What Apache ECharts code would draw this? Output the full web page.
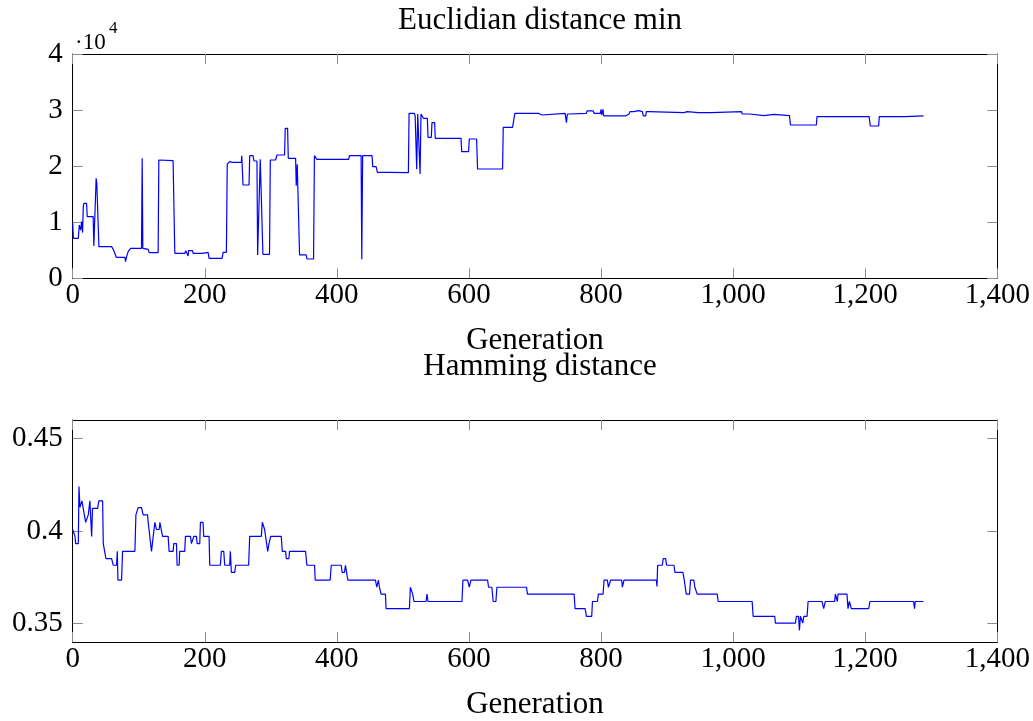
<!DOCTYPE html>
<html>
<head>
<meta charset="utf-8">
<script src="https://cdn.jsdelivr.net/npm/echarts@6/dist/echarts.min.js"></script>
<style>
html,body{margin:0;padding:0;background:#fff;}
#chart{width:1033px;height:721px;}
</style>
</head>
<body>
<div id="chart"></div>
<script>
// ---- Data ----
const titleTop = "Euclidian distance min";
const titleBottom = "Hamming distance";
const xAxisName = "Generation";
const xTicks = [0, 200, 400, 600, 800, 1000, 1200, 1400];
const yTicksTop = [0, 10000, 20000, 30000, 40000];
const yTicksBottom = [0.35, 0.40, 0.45];

const euclidGen = [
  0, 1, 8.5, 10, 12, 13.5, 15, 16, 17, 21, 22, 31, 32, 34.7, 35.5, 36.5, 39.7, 58.9, 61.4, 64,
  66, 79, 80, 81.6, 84, 87.6, 104.2, 105.2, 106.2, 114.3, 115.8, 129.4, 130.4, 152, 154.6, 169.7,
  171.2, 174, 174.8, 175.5, 181.3, 182.3, 196.4, 197, 205, 206.5, 226.2, 227.7, 232.7, 234,
  237.7, 240.2, 241.8, 255.4, 256, 256.9, 257.9, 267, 268, 273, 274.5, 279, 280, 283, 284,
  286.6, 288, 298, 299.2, 307.3, 309.3, 320.8, 321.8, 325.4, 326.4, 337.5, 338.5, 340, 342.5,
  343.5, 353.6, 354.6, 364.7, 366, 368.7, 369.7, 418, 419, 436.7, 437.7, 439, 453.3, 454.3,
  459.4, 461.4, 479.5, 508.3, 509.3, 517.3, 518.5, 520.9, 522.4, 524, 526, 527.4, 530, 531,
  537, 538, 543, 544, 548, 549, 588, 589, 599.5, 600.5, 611.6, 613, 650.9, 651.9, 666, 667,
  668.5, 669.5, 705.3, 706, 710.3, 711.3, 745.6, 747.6, 749, 752.6, 754, 777.8, 778.8, 788,
  789.4, 799, 800, 801, 803, 804, 837.3, 838.3, 842.3, 843.8, 849.9, 851, 856.4, 857.4, 862.5,
  864, 867.5, 868.5, 872.6, 873.6, 925.4, 926.5, 930.5, 931.5, 943, 945.7, 947, 967, 968.4,
  1012.7, 1013.7, 1025, 1026.3, 1046.5, 1047.5, 1061.6, 1062.6, 1085.3, 1086.8, 1126, 1127,
  1175, 1176, 1177, 1206, 1207.7, 1220.3, 1221.3, 1260.6, 1261.6, 1288.3
];
const euclidVal = [
  9900, 7130, 7130, 9500, 8600, 10100, 8150, 12780, 13370, 13370, 11000, 11000, 5760, 5760, 17830, 16940, 5640, 5640, 5170, 5170,
  3740, 3740, 2970, 3860, 4750, 5350, 5350, 21400, 5350, 5170, 4570, 4570, 21100, 20980, 4460, 4460,
  4930, 4930, 3980, 4930, 4930, 4460, 4460, 4630, 4630, 3560, 3560, 4630, 4630, 20390,
  20800, 20800, 20680, 20680, 21870, 21870, 16640, 16640, 21870, 21870, 20920, 20920, 4160, 4160, 21220,
  21220, 4280, 4280, 21100, 21100, 21990, 21990, 26750, 26750, 21400, 21400, 16520, 20330, 20330,
  4160, 4160, 3440, 3440, 21870, 21870, 21220, 21220, 21870, 21870, 3390, 21870, 21870, 19910,
  19910, 18900, 18900, 18840, 29420, 29420, 29000, 19440, 29300, 29300, 18600, 29300, 29300, 28530,
  28530, 25140, 25140, 27760, 27760, 24960, 24960, 22590, 22590, 24840, 24840, 19490, 19490, 26920, 26920, 27160,
  27160, 29420, 29420, 29120, 29120, 29420, 29420, 27760, 29300, 29300, 29420, 29420, 29840, 29840,
  29420, 29420, 30130, 29120, 30130, 28950, 28950, 29300, 29300, 29720, 29720, 29890, 29890, 29720, 29720,
  28950, 28950, 29720, 29720, 29540, 29540, 29720, 29720, 29600, 29600, 29720, 29540, 29540, 29720,
  29720, 29300, 29300, 29000, 29000, 29240, 29240, 29000, 29000, 27340, 27340, 28830,
  28830, 28710, 28830, 28830, 27160, 27160, 28830, 28830, 28950, 28950
];

const hammingGen = [
  0, 2, 3.5, 4.5, 8.5, 9.5, 10, 11, 13, 14, 17, 19.6, 22.6, 23.6, 25, 26, 27.5, 28.7, 30, 37.7,
  39.7, 45.3, 46.3, 48.8, 50.3, 58.9, 61.4, 66.4, 67.5, 68.5, 74, 75.5, 94.2, 95.7, 98.2, 99,
  104.2, 106.7, 113.3, 114.3, 116.8, 119.3, 121.9, 124.4, 125.9, 126.9, 131, 132, 134.5, 136,
  144.5, 146, 152, 153, 157.1, 158.1, 161.2, 162, 169.7, 170.7, 178.3, 179.8, 182.3, 183.3,
  187.4, 188.4, 192.4, 193.4, 197.4, 198.4, 206.5, 207.5, 223.6, 225.1, 228.7, 230.2, 237.7,
  238.7, 240.3, 245.3, 246.8, 266.4, 268, 285.6, 287.1, 289.1, 290.6, 293.2, 295.3, 297.2,
  299.7, 315.8, 317.3, 322.4, 323.4, 327.4, 328.4, 352.6, 354.6, 366.2, 367.2, 389.9, 391.4,
  406.5, 408, 411.5, 413, 415, 416.6, 458.4, 460.4, 462.9, 464.4, 467, 473.5, 474.5, 509.8,
  511.3, 513.3, 514.8, 516.8, 535, 536.5, 538, 589.4, 590.9, 598, 600.5, 603, 628.2, 629.7,
  634.7, 636.7, 640.8, 642.3, 687.1, 688.6, 759.2, 760.7, 775.9, 777.9, 785.9, 787, 794.5,
  796, 803, 804.6, 809.6, 811.1, 813.1, 814.6, 831.3, 832.3, 833.3, 834.8, 883.7, 884.7,
  885.7, 892.7, 894.2, 897.8, 899.3, 910.4, 911.9, 924, 926, 928, 929, 934, 935.5, 940.6,
  942, 944.1, 945.6, 975.9, 977.4, 1028.8, 1030.3, 1063, 1064, 1094.3, 1095.8, 1099, 1100.4,
  1101.9, 1103.4, 1105.4, 1107, 1112, 1113.5, 1134.6, 1137.1, 1139.7, 1153.8, 1154.8, 1156.5,
  1157.8, 1158.8, 1172.4, 1173.9, 1176, 1178, 1179, 1205.2, 1207.2, 1273.2, 1274.7, 1275.7, 1288.3
];
const hammingVal = [
  0.4008, 0.4008, 0.3971, 0.3932, 0.3932, 0.4240, 0.4240, 0.4128, 0.4128, 0.4163, 0.4163, 0.4047, 0.4047, 0.4087, 0.4087, 0.4163, 0.4163, 0.3971, 0.4122, 0.4122,
  0.4163, 0.4163, 0.3932, 0.3932, 0.3851, 0.3851, 0.3815, 0.3815, 0.3890, 0.3735, 0.3735, 0.3890, 0.3890, 0.4087, 0.4087, 0.4126,
  0.4126, 0.4087, 0.4087, 0.4047, 0.4047, 0.3890, 0.3971, 0.4047, 0.4047, 0.4008, 0.4008, 0.4047, 0.4047, 0.3971,
  0.3971, 0.3890, 0.3890, 0.3932, 0.3932, 0.3815, 0.3815, 0.3890, 0.3890, 0.3971, 0.3971, 0.3932, 0.3932, 0.3971,
  0.3971, 0.3932, 0.3932, 0.4047, 0.4047, 0.3971, 0.3971, 0.3815, 0.3815, 0.3890, 0.3890, 0.3815, 0.3815,
  0.3890, 0.3776, 0.3776, 0.3815, 0.3815, 0.3971, 0.3971, 0.4047, 0.4047, 0.4008, 0.4008, 0.3890, 0.3932,
  0.3971, 0.3971, 0.3890, 0.3890, 0.3851, 0.3851, 0.3890, 0.3890, 0.3815, 0.3815, 0.3735, 0.3735, 0.3815,
  0.3815, 0.3776, 0.3776, 0.3815, 0.3815, 0.3735, 0.3735, 0.3696, 0.3735, 0.3696, 0.3659, 0.3659, 0.3580, 0.3580,
  0.3696, 0.3696, 0.3659, 0.3619, 0.3619, 0.3659, 0.3619, 0.3619, 0.3735, 0.3735, 0.3696, 0.3735, 0.3735, 0.3696,
  0.3696, 0.3619, 0.3619, 0.3696, 0.3696, 0.3659, 0.3659, 0.3580, 0.3580, 0.3539, 0.3539, 0.3619, 0.3619,
  0.3659, 0.3659, 0.3735, 0.3735, 0.3696, 0.3696, 0.3735, 0.3735, 0.3696, 0.3696, 0.3735, 0.3735, 0.3700,
  0.3815, 0.3815, 0.3851, 0.3851, 0.3815, 0.3815, 0.3776, 0.3776, 0.3735, 0.3735, 0.3659, 0.3659, 0.3735, 0.3735,
  0.3696, 0.3696, 0.3659, 0.3659, 0.3619, 0.3619, 0.3539, 0.3539, 0.3502, 0.3502, 0.3539, 0.3539, 0.3462,
  0.3539, 0.3539, 0.3502, 0.3539, 0.3539, 0.3619, 0.3619, 0.3580, 0.3619, 0.3619, 0.3659, 0.3659,
  0.3619, 0.3659, 0.3659, 0.3580, 0.3619, 0.3619, 0.3580, 0.3580, 0.3619, 0.3619, 0.3580, 0.3619, 0.3619
];

// ---- Build chart ----
const FONT = "'Liberation Serif', 'DejaVu Serif', serif";
const euclidData = euclidGen.map((g, i) => [g, euclidVal[i]]);
const hammingData = hammingGen.map((g, i) => [g, hammingVal[i]]);

const gridL = 72.7, gridW = 924.6, gridH = 224.3;
function tick(extra) {
  return Object.assign({ show: true, inside: true, length: 10,
    lineStyle: { color: '#8c8c8c', width: 1 } }, extra || {});
}
function axLine() { return { show: true, onZero: false, lineStyle: { color: '#000', width: 1 } }; }
function lbl(extra) {
  return Object.assign({ fontFamily: FONT, fontSize: 29, color: '#000' }, extra || {});
}
const fmtX = v => Number(v).toLocaleString('en-US');

function xAxes(gridIndex) {
  return [
    { type: 'value', gridIndex, position: 'bottom', min: 0, max: 1400, interval: 200,
      axisLine: axLine(), axisTick: tick(), splitLine: { show: false },
      axisLabel: lbl({ margin: 3, formatter: fmtX }),
      name: xAxisName, nameLocation: 'middle', nameGap: 47,
      nameTextStyle: { fontFamily: FONT, fontSize: 31, color: '#000' } },
    { type: 'value', gridIndex, position: 'top', min: 0, max: 1400, interval: 200,
      axisLine: axLine(), axisTick: tick(), splitLine: { show: false },
      axisLabel: { show: false } }
  ];
}

const option = {
  animation: false,
  backgroundColor: '#fff',
  title: [
    { text: titleTop, left: 535, textAlign: 'center', top: 0,
      textStyle: { fontFamily: FONT, fontSize: 31, fontWeight: 'normal', color: '#000' } },
    { text: titleBottom, left: 535, textAlign: 'center', top: 346,
      textStyle: { fontFamily: FONT, fontSize: 31, fontWeight: 'normal', color: '#000' } },
    { text: '·10', left: 70, top: 26,
      textStyle: { fontFamily: FONT, fontSize: 23, fontWeight: 'normal', color: '#000' } },
    { text: '4', left: 104, top: 15,
      textStyle: { fontFamily: FONT, fontSize: 17, fontWeight: 'normal', color: '#000' } }
  ],
  grid: [
    { left: gridL, width: gridW, top: 54, height: gridH, containLabel: false },
    { left: gridL, width: gridW, top: 420, height: gridH, containLabel: false }
  ],
  xAxis: xAxes(0).concat(xAxes(1)),
  yAxis: [
    { type: 'value', gridIndex: 0, position: 'left', min: 0, max: 40000, interval: 10000,
      axisLine: axLine(), axisTick: tick(), splitLine: { show: false },
      axisLabel: lbl({ margin: 10, formatter: v => String(v / 10000) }) },
    { type: 'value', gridIndex: 0, position: 'right', min: 0, max: 40000, interval: 10000,
      axisLine: axLine(), axisTick: tick(), splitLine: { show: false }, axisLabel: { show: false } },
    { type: 'value', gridIndex: 1, position: 'left', min: 0.34, max: 0.46,
      axisLine: axLine(), axisTick: tick({ customValues: yTicksBottom }),
      splitLine: { show: false },
      axisLabel: lbl({ margin: 10, customValues: yTicksBottom, formatter: v => String(+Number(v).toFixed(2)) }) },
    { type: 'value', gridIndex: 1, position: 'right', min: 0.34, max: 0.46,
      axisLine: axLine(), axisTick: tick({ customValues: yTicksBottom }),
      splitLine: { show: false }, axisLabel: { show: false } }
  ],
  series: [
    { type: 'line', xAxisIndex: 0, yAxisIndex: 0, data: euclidData, showSymbol: false,
      lineStyle: { color: '#0000ff', width: 1.2 }, itemStyle: { color: '#0000ff' } },
    { type: 'line', xAxisIndex: 2, yAxisIndex: 2, data: hammingData, showSymbol: false,
      lineStyle: { color: '#0000ff', width: 1.2 }, itemStyle: { color: '#0000ff' } }
  ]
};

const chart = echarts.init(document.getElementById('chart'), null, { renderer: 'canvas' });
chart.setOption(option);
</script>
</body>
</html>
